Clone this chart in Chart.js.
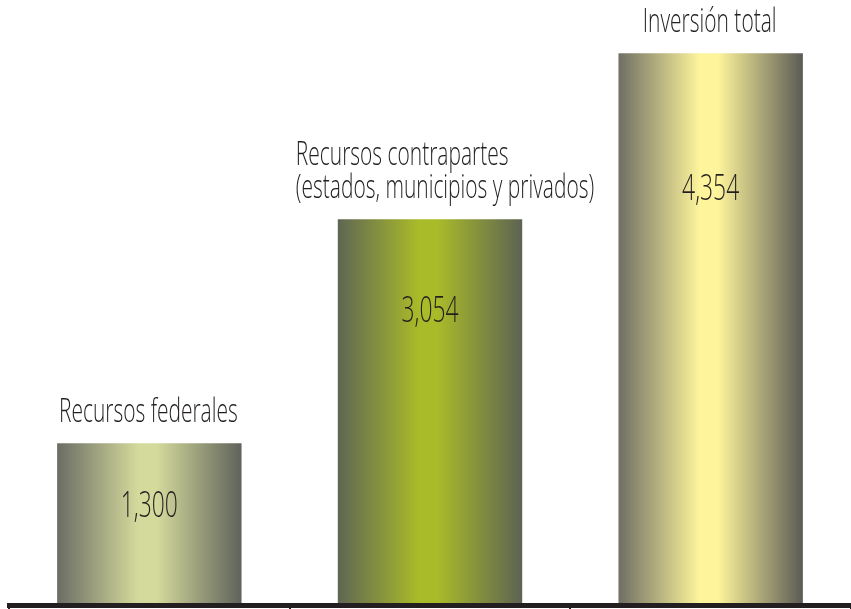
<!DOCTYPE html>
<html>
<head>
<meta charset="utf-8">
<script src="https://cdn.jsdelivr.net/npm/chart.js@4.4.0/dist/chart.umd.min.js"></script>
<style>
  html, body { margin: 0; padding: 0; background: #fff; }
  #wrap { width: 851px; height: 609px; }
</style>
</head>
<body>
<div id="wrap"><canvas id="inversion" width="851" height="609"></canvas></div>
<script>
// data (millones de pesos)
const categories = [
  ["Recursos federales"],
  ["Recursos contrapartes", "(estados, municipios y privados)"],
  ["Inversión total"]
];
const amounts = [1300, 3054, 4354];
const amountLabels = ["1,300", "3,054", "4,354"];

// gradient stops per bar: dark edge, light middle, dark edge
const barShades = [
  ["#6b6d64", "#d4da9c", "#5f625a"],
  ["#5f6653", "#a9bb29", "#5d6352"],
  ["#6f6f64", "#fdf49b", "#5b5b55"]
];

const BAR_PCT = 0.657;
const SQUEEZE = 0.635;   // fake a condensed face
const INK = "#231f20";

function barGradient(ctx) {
  const chart = ctx.chart;
  const xs = chart.scales.x;
  const shade = barShades[ctx.dataIndex] || barShades[0];
  if (!xs || ctx.type !== "data") return shade[1];
  const center = xs.getPixelForValue(ctx.dataIndex);
  const half = xs.width / categories.length * BAR_PCT / 2;
  if (!isFinite(center) || !isFinite(half) || half <= 0) return shade[1];
  const g = chart.ctx.createLinearGradient(center - half, 0, center + half, 0);
  g.addColorStop(0, shade[0]);
  g.addColorStop(0.44, shade[1]);
  g.addColorStop(0.54, shade[1]);
  g.addColorStop(1, shade[2]);
  return g;
}

function squeezedText(c, text, x, y, align) {
  c.save();
  c.translate(x, y);
  c.scale(SQUEEZE, 1);
  c.textAlign = align;
  c.fillText(text, 0, 0);
  c.restore();
}

const barTexts = {
  id: "barTexts",
  afterDatasetsDraw(chart) {
    const c = chart.ctx;
    const meta = chart.getDatasetMeta(0);
    const base = chart.scales.y.getPixelForValue(chart.scales.y.min);
    c.save();
    c.fillStyle = INK;
    c.textBaseline = "alphabetic";
    meta.data.forEach((bar, i) => {
      const h = base - bar.y;
      // category caption above the bar
      c.font = "360 33px 'Open Sans'";
      const lines = categories[i];
      const widest = Math.max(...lines.map(t => c.measureText(t).width)) * SQUEEZE;
      const nudge = lines.length > 1 ? 15 : -1;
      const left = bar.x - widest / 2 + nudge;
      const lineGap = 33;
      lines.forEach((t, k) => {
        const y = bar.y - 21 - (lines.length - 1 - k) * lineGap;
        squeezedText(c, t, left, y, "left");
      });
      // value inside the bar
      c.font = "360 36px 'Open Sans'";
      const vy = bar.y + Math.max(74, h * 0.265);
      squeezedText(c, amountLabels[i], bar.x, vy, "center");
    });
    c.restore();
  }
};

const chart = new Chart(document.getElementById("inversion"), {
  type: "bar",
  data: {
    labels: categories,
    datasets: [{
      data: amounts,
      backgroundColor: barGradient,
      borderWidth: 0,
      barPercentage: BAR_PCT,
      categoryPercentage: 1
    }]
  },
  options: {
    responsive: false,
    animation: false,
    layout: { padding: { left: 9, right: -3, top: 0, bottom: 0 } },
    plugins: {
      legend: { display: false },
      tooltip: { enabled: false }
    },
    scales: {
      x: {
        offset: true,
        ticks: { display: false },
        grid: {
          offset: true,
          drawOnChartArea: false,
          drawTicks: true,
          tickLength: 3.5,
          color: INK,
          lineWidth: 2
        },
        border: { display: true, color: INK, width: 5, z: 1 }
      },
      y: {
        display: false,
        min: 30,
        max: 4770
      }
    }
  },
  plugins: [barTexts]
});
// second pass so the gradients see laid-out scales
chart.update();
</script>
</body>
</html>
